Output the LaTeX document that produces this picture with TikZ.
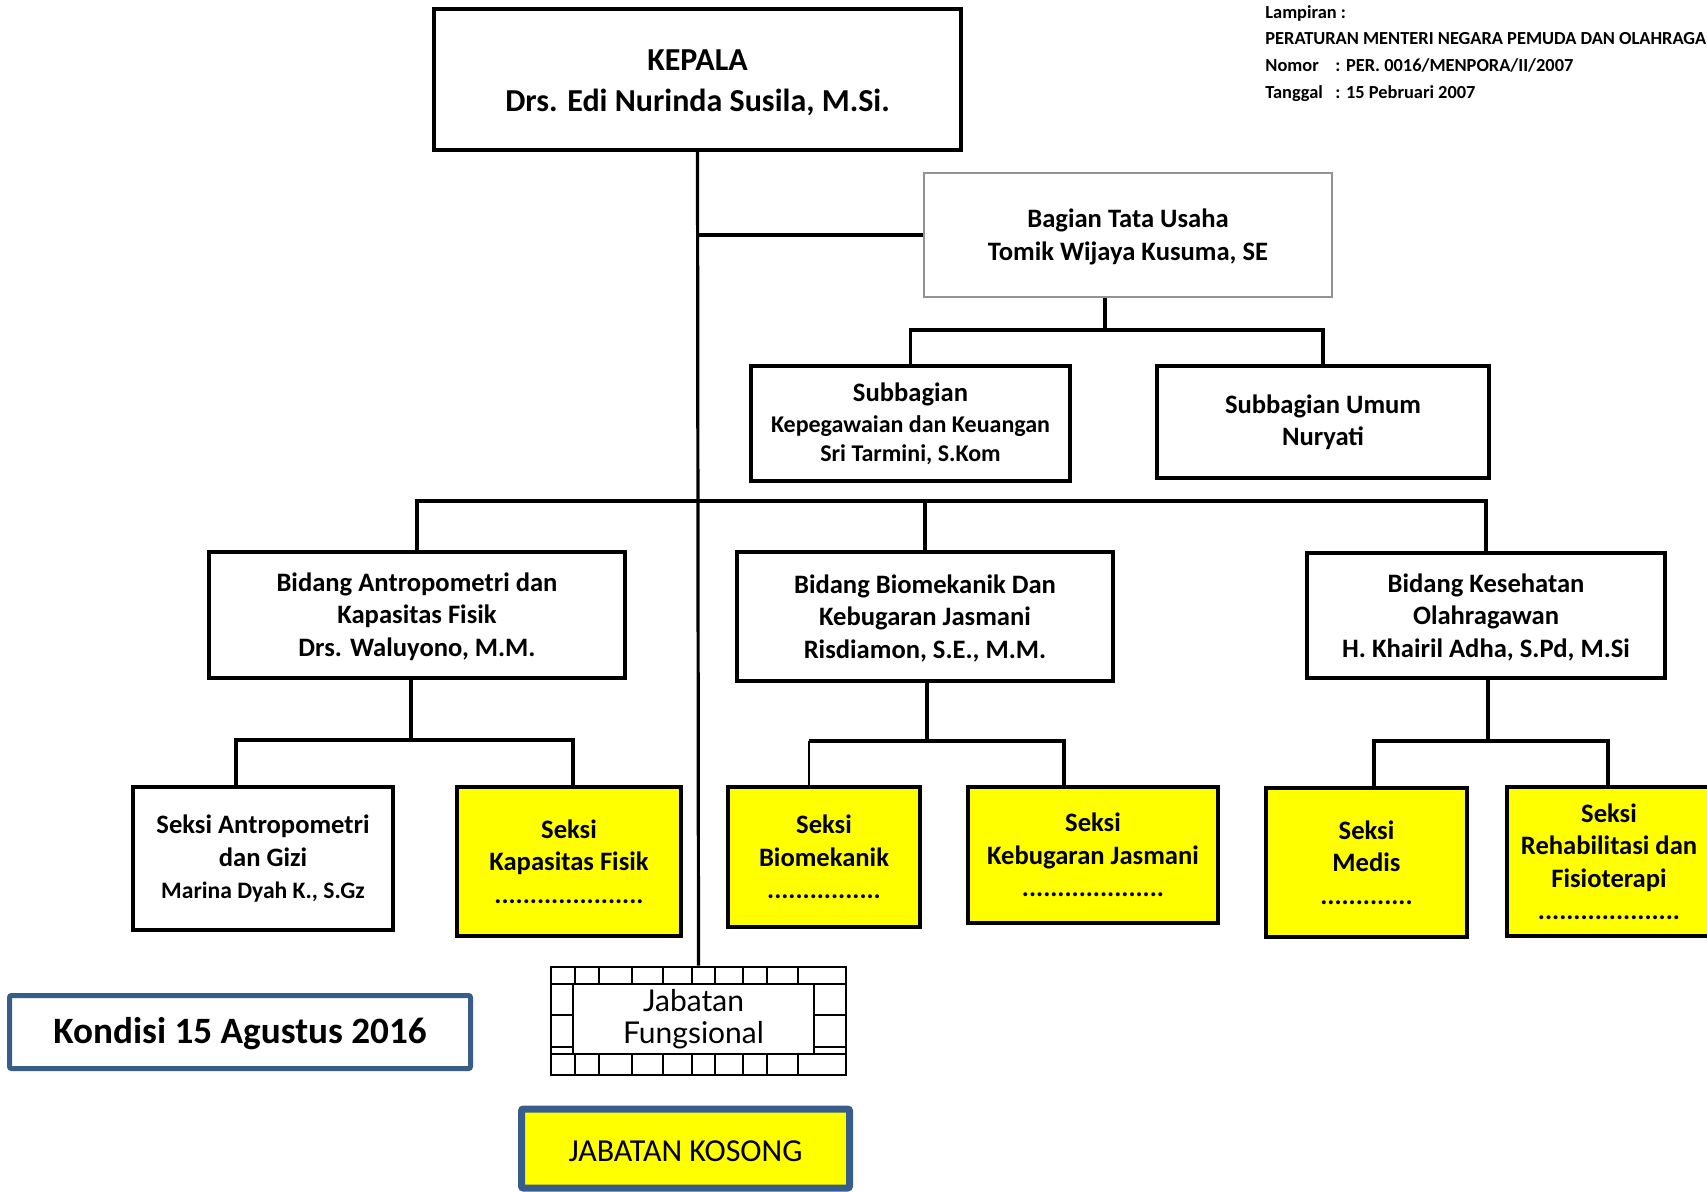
\documentclass[tikz,border=0pt]{standalone}
\usepackage{fontspec}
\setmainfont{Carlito}
\newfontfamily\jffont{Lato}
\definecolor{kblue}{HTML}{385D8A}
\definecolor{kyellow}{HTML}{FFFF00}
\begin{document}
\begin{tikzpicture}[x=0.5pt,y=-0.5pt,
  box/.style={draw=black, line width=1.6pt, align=center, inner sep=0pt,
    font=\bfseries\fontsize{13.3}{16.25}\selectfont},
  ybox/.style={box, fill=kyellow},
  conn/.style={line width=1.6pt},
  thinconn/.style={line width=0.7pt},
  brick/.style={line width=1.3pt}]
\useasboundingbox (0,0) rectangle (1707,1191);
\clip (0,0) rectangle (1707,1191);

% header text
\node[anchor=north west, inner sep=0pt, align=left,
  font=\bfseries\fontsize{9.2}{13.3}\selectfont] (lamp) at (1265,5)
  {Lampiran :\\PERATURAN MENTERI NEGARA PEMUDA DAN OLAHRAGA\\
   \makebox[35pt][l]{Nomor}: PER. 0016/MENPORA/II/2007\\
   \makebox[35pt][l]{Tanggal}: 15 Pebruari 2007};

% top level
\node[box, minimum width=263.5pt, minimum height=70.5pt,
  font=\bfseries\fontsize{16}{20.8}\selectfont] (kepala) at (697.5,79.5)
  {\rule{0pt}{13.5pt}KEPALA\\Drs. Edi Nurinda Susila, M.Si.};
\node[box, draw=gray!85, line width=1.1pt, minimum width=204pt, minimum height=62pt]
  (tu) at (1128,235) {\rule{0pt}{11pt}Bagian Tata Usaha\\Tomik Wijaya Kusuma, SE};
\node[box, minimum width=159.5pt, minimum height=57.5pt] (sk) at (910.5,423.5)
  {Subbagian\\[-0.5pt]{\fontsize{12}{14}\selectfont Kepegawaian dan Keuangan}\\[-2pt]{\fontsize{12}{14}\selectfont Sri Tarmini, S.Kom}};
\node[box, minimum width=166pt, minimum height=56pt] (su) at (1323,422)
  {Subbagian Umum\\Nuryati};

% bidang
\node[box, minimum width=208pt, minimum height=63pt] (b1) at (417,615)
  {\rule{0pt}{11pt}Bidang Antropometri dan\\Kapasitas Fisik\\Drs. Waluyono, M.M.};
\node[box, minimum width=188pt, minimum height=64.5pt] (b2) at (925,616.5)
  {\rule{0pt}{11pt}Bidang Biomekanik Dan\\Kebugaran Jasmani\\Risdiamon, S.E., M.M.};
\node[box, minimum width=179pt, minimum height=62.5pt] (b3) at (1486,615.5)
  {\rule{0pt}{11pt}Bidang Kesehatan\\Olahragawan\\H. Khairil Adha, S.Pd, M.Si};

% seksi
\node[box, minimum width=130pt, minimum height=71.5pt] (s1) at (263,858.5)
  {Seksi Antropometri\\dan Gizi\\{\fontsize{11.8}{14}\selectfont Marina Dyah K., S.Gz}};
\node[ybox, minimum width=112pt, minimum height=74.5pt] (s2) at (569,861.5)
  {Seksi\\Kapasitas Fisik\\.....................};
\node[ybox, minimum width=96pt, minimum height=70pt] (s3) at (824,857)
  {Seksi\\Biomekanik\\................};
\node[ybox, minimum width=125pt, minimum height=68pt] (s4) at (1093,855)
  {Seksi\\Kebugaran Jasmani\\....................};
\node[ybox, minimum width=100.5pt, minimum height=74.5pt] (s5) at (1366.5,862.5)
  {Seksi\\Medis\\.............};
\node[ybox, minimum width=102pt, minimum height=74.5pt] (s6) at (1609,861.5)
  {Seksi\\Rehabilitasi dan\\Fisioterapi\\....................};

% junction coordinates
\coordinate (jt) at (1105,330);
\coordinate (bar) at (699,501);
\coordinate (jA) at (411,740);
\coordinate (aL) at (236,740);
\coordinate (aR) at (573,740);
\coordinate (jB) at (927,741);
\coordinate (bL) at (809,741);
\coordinate (bR) at (1064,741);
\coordinate (jC) at (1488,741);
\coordinate (cL) at (1374,741);
\coordinate (cR) at (1608,741);

% jabatan fungsional (brick frame)
\node[draw, line width=1.3pt, minimum width=147.5pt, minimum height=54pt, inner sep=0pt]
  (jfo) at (698.5,1021) {};
\draw[brick] (jfo.west |- 0,984) -- (jfo.east |- 0,984);
\draw[brick] (jfo.west |- 0,1054) -- (jfo.east |- 0,1054);
\foreach \yy in {1015,1047} {
  \draw[brick] (jfo.west |- 0,\yy) -- (573,\yy);
  \draw[brick] (814,\yy) -- (jfo.east |- 0,\yy);
}
\foreach \xx in {575,599,632,663,692,715,743,767,798} {
  \draw[brick] (\xx,967) -- (\xx,984);
  \draw[brick] (\xx,1054) -- (\xx,1075);
}
\node[draw, fill=white, line width=1.3pt, minimum width=120.5pt, minimum height=35pt,
  inner sep=0pt, align=center, font=\jffont\fontsize{15}{16}\selectfont]
  (jf) at (693.5,1019) {Jabatan\\Fungsional};

% legend boxes
\node[draw=kblue, line width=2.5pt, rounded corners=1pt, minimum width=230.5pt,
  minimum height=36.5pt, inner sep=0pt, font=\bfseries\fontsize{18.6}{20}\selectfont]
  (kond) at (240,1032) {\rule{0pt}{15pt}Kondisi 15 Agustus 2016};
\node[draw=kblue, fill=kyellow, line width=3.5pt, rounded corners=1pt, minimum width=164pt,
  minimum height=39.5pt, inner sep=0pt, font=\fontsize{16}{18}\selectfont]
  (kos) at (685.5,1148.5) {\rule{0pt}{13pt}JABATAN KOSONG};

% connectors
\draw[conn] (kepala.south) -- (jfo.north);
\draw[conn] (kepala.south |- tu.west) -- (tu.west);
\draw[conn] (tu.south -| jt) -- (jt);
\draw[conn] (sk.north) |- (jt) -| (su.north);
\draw[conn] (b1.north) |- (bar) -| (b3.north);
\draw[conn] (b2.north) -- (b2.north |- bar);
\draw[conn] (b1.south -| jA) -- (jA);
\draw[conn] (s1.north -| aL) -- (aL) -- (aR) -- (s2.north -| aR);
\draw[conn] (b2.south -| jB) -- (jB);
\draw[thinconn] (s3.north -| bL) -- (bL);
\draw[conn] (bL) -- (bR) -- (s4.north -| bR);
\draw[conn] (b3.south -| jC) -- (jC);
\draw[conn] (s5.north -| cL) -- (cL) -- (cR) -- (s6.north -| cR);
\end{tikzpicture}
\end{document}
